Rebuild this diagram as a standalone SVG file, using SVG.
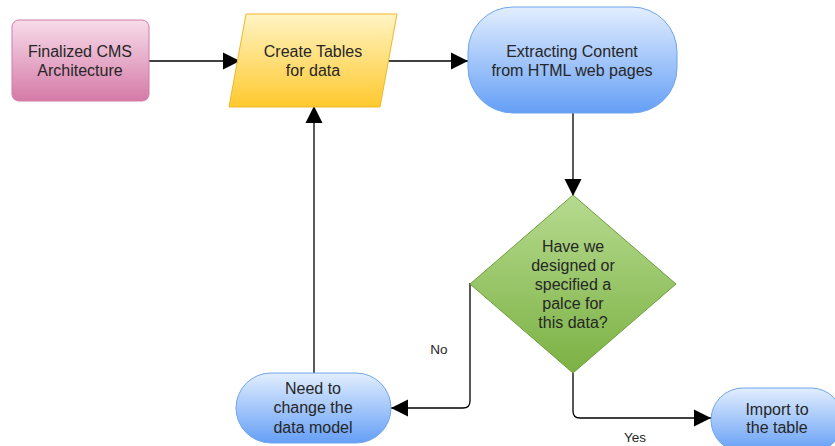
<svg xmlns="http://www.w3.org/2000/svg" width="835" height="446" viewBox="0 0 835 446">
  <defs>
    <linearGradient id="gPink" x1="0" y1="0" x2="0" y2="1">
      <stop offset="0" stop-color="#f7dcea"/>
      <stop offset="1" stop-color="#d57aa7"/>
    </linearGradient>
    <linearGradient id="gYellow" x1="0" y1="0" x2="0" y2="1">
      <stop offset="0" stop-color="#fff4c4"/>
      <stop offset="1" stop-color="#ffc92e"/>
    </linearGradient>
    <linearGradient id="gBlue" x1="0" y1="0" x2="0" y2="1">
      <stop offset="0" stop-color="#e2eefe"/>
      <stop offset="1" stop-color="#659ff6"/>
    </linearGradient>
    <linearGradient id="gGreen" x1="0" y1="0" x2="0" y2="1">
      <stop offset="0" stop-color="#b6da8f"/>
      <stop offset="1" stop-color="#7bb143"/>
    </linearGradient>
    <marker id="arrow" markerUnits="userSpaceOnUse" markerWidth="18" markerHeight="18" refX="17" refY="9" orient="auto" viewBox="0 0 18 18">
      <path d="M0,0.5 L17,9 L0,17.5 z" fill="#000"/>
    </marker>
  </defs>
  <style>
    text { font-family: "Liberation Sans", Arial, sans-serif; font-size: 16px; fill: #262626; text-anchor: middle; }
    .lbl { font-size: 13.5px; }
    .edge { fill: none; stroke: #000; stroke-width: 1.3; marker-end: url(#arrow); }
  </style>

  <rect width="835" height="446" fill="#fff"/>

  <g id="connectors">
    <path class="edge" d="M149,61 L240,61"/>
    <path class="edge" d="M386,61 L468,61"/>
    <path class="edge" d="M573,113 L573,196"/>
    <path class="edge" d="M470,283 L470,401 Q470,408 463,408 L391,408"/>
    <path class="edge" d="M573,373 L573,411 Q573,418 580,418 L711,418"/>
    <path class="edge" d="M314,373 L314,106"/>
    <text class="lbl" x="439" y="354">No</text>
    <text class="lbl" x="635" y="442">Yes</text>
  </g>

  <g id="finalized-cms">
    <rect x="12" y="20" width="137" height="81" rx="7" fill="url(#gPink)" stroke="#d27aa4" stroke-width="1"/>
    <text x="80" y="57">Finalized CMS</text>
    <text x="80" y="76">Architecture</text>
  </g>

  <g id="create-tables">
    <polygon points="246,14 397,14 380,107 229,107" fill="url(#gYellow)" stroke="#f0b72a" stroke-width="1"/>
    <text x="313" y="57">Create Tables</text>
    <text x="313" y="76">for data</text>
  </g>

  <g id="extracting-content">
    <rect x="468" y="7" width="209" height="106" rx="45" fill="url(#gBlue)" stroke="#6fa4ee" stroke-width="1"/>
    <text x="572" y="57">Extracting Content</text>
    <text x="572" y="76">from HTML web pages</text>
  </g>

  <g id="decision">
    <polygon points="573,195 676,284 573,373 470,284" fill="url(#gGreen)" stroke="#6e9e3c" stroke-width="1"/>
    <text x="573" y="252">Have we</text>
    <text x="573" y="271">designed or</text>
    <text x="573" y="290">specified a</text>
    <text x="573" y="309">palce for</text>
    <text x="573" y="328">this data?</text>
  </g>

  <g id="change-data-model">
    <rect x="236" y="373" width="155" height="70" rx="35" fill="url(#gBlue)" stroke="#6fa4ee" stroke-width="1"/>
    <text x="313" y="394">Need to</text>
    <text x="313" y="413">change the</text>
    <text x="313" y="433">data model</text>
  </g>

  <g id="import-table">
    <rect x="711" y="388" width="132" height="64" rx="32" fill="url(#gBlue)" stroke="#6fa4ee" stroke-width="1"/>
    <text x="777" y="415">Import to</text>
    <text x="777" y="433">the table</text>
  </g>
</svg>
